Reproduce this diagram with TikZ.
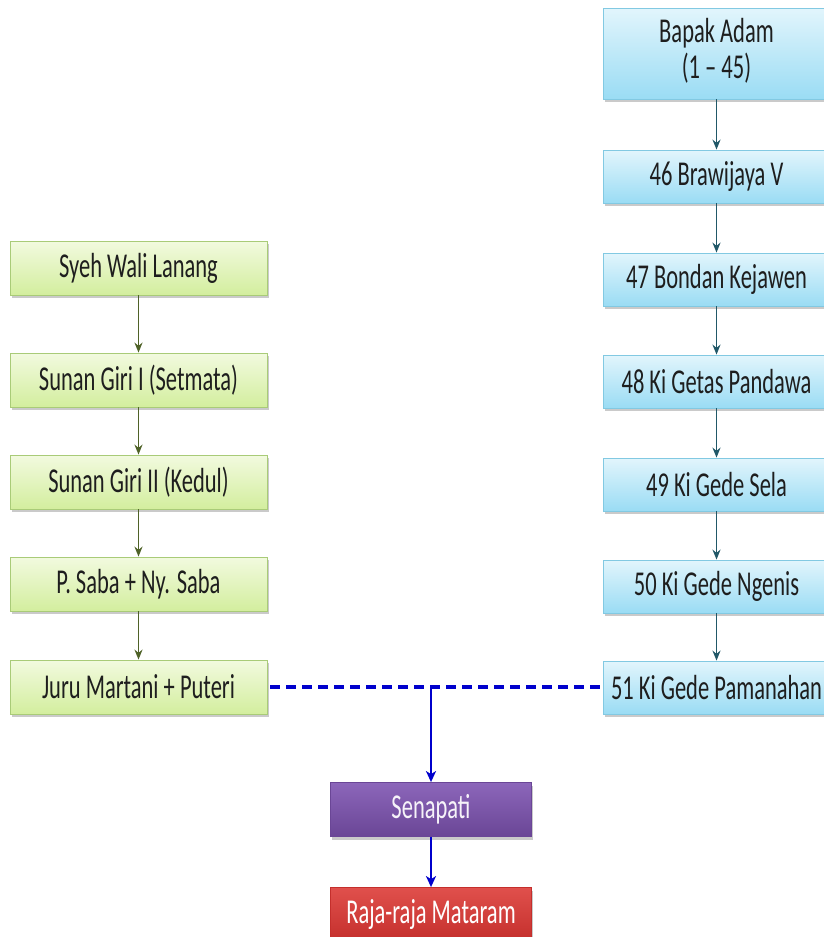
\documentclass[tikz,border=0pt]{standalone}
\usepackage{fontspec}
\usepackage{graphicx}
\setmainfont{Carlito}
\usetikzlibrary{arrows.meta,shadows}
\newcommand{\tx}[1]{\scalebox{1}[1.55]{#1}}
\definecolor{grnTop}{HTML}{F2FADF}
\definecolor{grnBot}{HTML}{D3EE9E}
\definecolor{grnBrd}{HTML}{A9CB78}
\definecolor{bluTop}{HTML}{E2F5FC}
\definecolor{bluBot}{HTML}{9ADCF4}
\definecolor{bluBrd}{HTML}{82C9E2}
\definecolor{purTop}{HTML}{8C66BA}
\definecolor{purBot}{HTML}{6A4696}
\definecolor{redTop}{HTML}{E0504C}
\definecolor{redBot}{HTML}{C42F2C}
\definecolor{arrG}{HTML}{4F6228}
\definecolor{arrB}{HTML}{215868}
\definecolor{lnBlue}{HTML}{0000CC}
\definecolor{txDark}{HTML}{1E1E1E}
\begin{document}
\begin{tikzpicture}[x=1pt,y=-1pt,
  base/.style={rectangle, inner sep=0pt, text=txDark, line width=0.8pt,
    font=\fontsize{22.5}{21.5}\selectfont,
    drop shadow={shadow xshift=1.5pt, shadow yshift=-3pt, opacity=0.35, fill=black!60}},
  gbox/.style={base, draw=grnBrd, top color=grnTop, bottom color=grnBot,
    minimum width=257pt, minimum height=54pt},
  bbox/.style={base, draw=bluBrd, top color=bluTop, bottom color=bluBot,
    minimum width=227pt, minimum height=53pt},
  pbox/.style={base, draw=purBot, top color=purTop, bottom color=purBot, text=white!92!purTop,
    minimum width=201pt, minimum height=54pt},
  rbox/.style={base, draw=redBot, top color=redTop, bottom color=redBot, text=white,
    minimum width=201pt, minimum height=54pt},
  garr/.style={draw=arrG, line width=1.8pt, -{Stealth[length=10pt,width=8pt]}},
  barr/.style={draw=arrB, line width=1.8pt, -{Stealth[length=10pt,width=8pt]}},
  blarr/.style={draw=lnBlue, line width=2.2pt, -{Stealth[length=11pt,width=10pt,inset=3pt]}},
  dash line/.style={draw=lnBlue, line width=3.5pt, dash pattern=on 10pt off 6pt}
]
\useasboundingbox (0,0) rectangle (824,937);

% left column
\node[gbox] (syeh) at (138.5,268) {\tx{Syeh Wali Lanang}};
\node[gbox] (sg1)  at (138.5,380) {\tx{Sunan Giri I (Setmata)}};
\node[gbox] (sg2)  at (138.5,482) {\tx{Sunan Giri II (Kedul)}};
\node[gbox] (saba) at (138.5,584) {\tx{P. Saba + Ny. Saba}};
\node[gbox] (juru) at (138.5,687) {\tx{Juru Martani + Puteri}};

% right column
\node[bbox, minimum height=91pt] (adam) at (716.5,53.5)
  {\tx{\begin{tabular}{@{}c@{}}Bapak Adam\\(1 -- 45)\end{tabular}}};
\node[bbox] (b46) at (716.5,176.5) {\tx{46 Brawijaya V}};
\node[bbox] (b47) at (716.5,279.5) {\tx{47 Bondan Kejawen}};
\node[bbox] (b48) at (716.5,381.5) {\tx{48 Ki Getas Pandawa}};
\node[bbox] (b49) at (716.5,484.5) {\tx{49 Ki Gede Sela}};
\node[bbox] (b50) at (716.5,586.5) {\tx{50 Ki Gede Ngenis}};
\node[bbox] (b51) at (716.5,687.5) {\tx{51 Ki Gede Pamanahan}};

% bottom
\node[pbox] (sena) at (431,809.5) {\tx{Senapati}};
\node[rbox] (raja) at (431,914.5) {\tx{Raja-raja Mataram}};

% arrows
\draw[garr] (syeh) -- (sg1);
\draw[garr] (sg1) -- (sg2);
\draw[garr] (sg2) -- (saba);
\draw[garr] (saba) -- (juru);

\draw[barr] (adam) -- (b46);
\draw[barr] (b46) -- (b47);
\draw[barr] (b47) -- (b48);
\draw[barr] (b48) -- (b49);
\draw[barr] (b49) -- (b50);
\draw[barr] (b50) -- (b51);

\coordinate (junc) at (sena.north |- juru.east);
\draw[dash line] ([xshift=3pt]juru.east) -- ([xshift=-3pt]b51.west |- juru.east);
\draw[blarr] (junc) -- (sena.north);
\draw[blarr] (sena) -- (raja);
\end{tikzpicture}
\end{document}
